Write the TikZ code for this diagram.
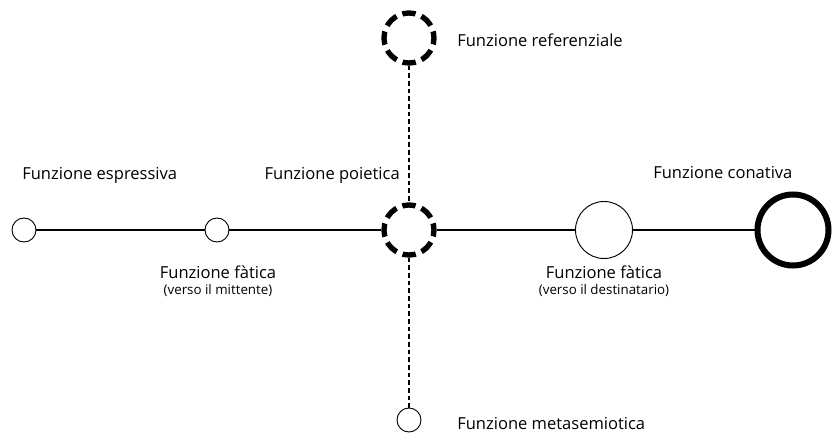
\documentclass[tikz,border=0pt]{standalone}
\usepackage{fontspec}
\setmainfont{Open Sans}
\usepackage{tikz}
\usetikzlibrary{positioning}
\tikzstyle{smallfn} = [draw, circle, line width=0.7pt, minimum size=18pt, inner sep=0pt]
\tikzstyle{largefn} = [draw, circle, line width=0.7pt, minimum size=42.75pt, inner sep=0pt]
\tikzstyle{mainfn} = [draw, circle, line width=4.5pt, minimum size=53.25pt, inner sep=0pt]
\tikzstyle{dashfn} = [draw, circle, line width=4pt, minimum size=37.5pt, inner sep=0pt,
dash pattern=on 10pt off 4.726pt, dash phase=5pt]
\tikzstyle{fnlabel} = [font=\fontsize{12.4}{14}\selectfont, inner sep=0pt]
\tikzstyle{sublabel} = [font=\fontsize{10}{12}\selectfont, inner sep=0pt]
\tikzstyle{axis} = [line width=1.5pt]
\tikzstyle{vaxis} = [line width=1.5pt, dash pattern=on 3.5pt off 2.25pt]

\begin{document}
\begin{tikzpicture}[x=0.75pt, y=-0.75pt]
		\useasboundingbox (0,0) rectangle (833,435);
		
		% funzioni sull'asse orizzontale
		\node [smallfn] (espressiva) at (24,230) {};
		\node [smallfn] (faticaM) at (217,230) {};
		\node [dashfn] (poietica) at (409,230) {};
		\node [largefn] (faticaD) at (604,230) {};
		\node [mainfn] (conativa) at (793,230) {};
		
		% funzioni sull'asse verticale
		\node [dashfn] (referenziale) at (409,38) {};
		\node [smallfn] (metasemiotica) at (409,420) {};
		
		\draw [axis] (espressiva) -- (faticaM);
		\draw [axis] (faticaM) -- (poietica);
		\draw [axis] (poietica) -- (faticaD);
		\draw [axis] (faticaD) -- (conativa);
		
		\draw [vaxis] (referenziale) -- (poietica);
		\draw [vaxis] (poietica) -- (metasemiotica);
		
		% etichette
		\node [fnlabel, anchor=west] (lEspressiva) at (22,175) {Funzione espressiva};
		\node [fnlabel, anchor=east] (lPoietica) at (400,175) {Funzione poietica};
		\node [fnlabel, anchor=west] (lConativa) at (653,173) {Funzione conativa};
		\node [fnlabel, anchor=west] (lReferenziale) at (457,40) {Funzione referenziale};
		\node [fnlabel, anchor=west] (lMetasemiotica) at (457,424) {Funzione metasemiotica};
		
		\node [fnlabel] (lFaticaM) at (218,272) {Funzione fàtica};
		\node [sublabel, below=4pt of lFaticaM] (lMittente) {(verso il mittente)};
		\node [fnlabel] (lFaticaD) at (604,272) {Funzione fàtica};
		\node [sublabel, below=4pt of lFaticaD] (lDestinatario) {(verso il destinatario)};
	\end{tikzpicture}
\end{document}
